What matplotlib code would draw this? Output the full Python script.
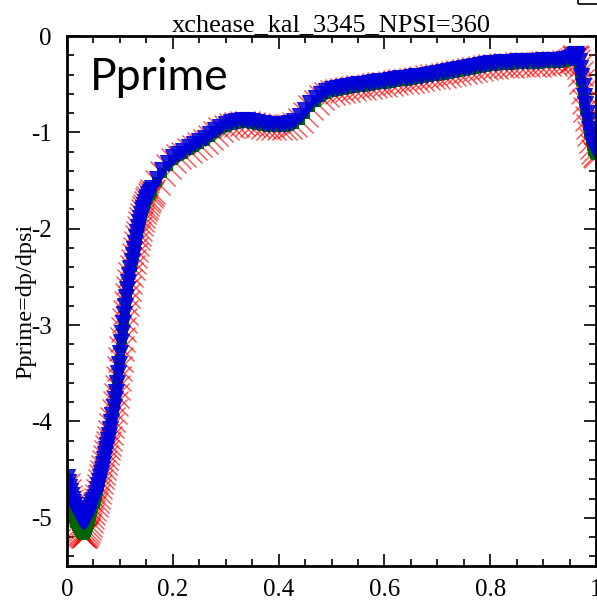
import numpy as np
import matplotlib
matplotlib.use('Agg')
import matplotlib.pyplot as plt
from matplotlib.patches import Rectangle

plt.rcParams['font.family'] = 'Liberation Serif'
plt.rcParams['axes.unicode_minus'] = False

# psi grid (finer where the profile is steep)
psi = np.concatenate([np.linspace(0.0, 0.16, 81),
                      np.linspace(0.17, 0.95, 79),
                      np.linspace(0.955, 1.0, 19)])

# blue (triangles)
pp_blue = [
    -4.58, -4.63, -4.68, -4.72, -4.76, -4.80, -4.84, -4.87, -4.90, -4.93,
    -4.95, -4.97, -4.99, -5.01, -5.02, -5.03, -5.03, -5.02, -5.01, -4.99,
    -4.96, -4.93, -4.90, -4.87, -4.84, -4.81, -4.78, -4.74, -4.70, -4.66,
    -4.62, -4.58, -4.54, -4.49, -4.44, -4.39, -4.34, -4.29, -4.24, -4.19,
    -4.14, -4.08, -4.01, -3.93, -3.85, -3.77, -3.69, -3.60, -3.50, -3.40,
    -3.29, -3.18, -3.08, -2.98, -2.89, -2.80, -2.71, -2.63, -2.55, -2.48,
    -2.41, -2.34, -2.27, -2.21, -2.15, -2.09, -2.03, -1.98, -1.93, -1.89,
    -1.85, -1.81, -1.78, -1.75, -1.72, -1.69, -1.67, -1.64, -1.62, -1.60,
    -1.58,
    -1.48, -1.39, -1.32, -1.26, -1.22, -1.19, -1.15, -1.12, -1.09, -1.06,
    -1.02, -0.98, -0.94, -0.91, -0.89, -0.88, -0.87, -0.87, -0.88, -0.89,
    -0.90, -0.91, -0.91, -0.91, -0.91, -0.90, -0.88, -0.83, -0.77, -0.70,
    -0.64, -0.60, -0.57, -0.55, -0.54, -0.53, -0.52, -0.51, -0.50, -0.50,
    -0.49, -0.48, -0.47, -0.47, -0.46, -0.45, -0.44, -0.44, -0.43, -0.42,
    -0.41, -0.40, -0.39, -0.38, -0.37, -0.36, -0.35, -0.34, -0.33, -0.32,
    -0.31, -0.30, -0.29, -0.28, -0.28, -0.27, -0.27, -0.27, -0.26, -0.26,
    -0.26, -0.26, -0.26, -0.25, -0.25, -0.25, -0.25, -0.24, -0.23,
    -0.22, -0.20, -0.19, -0.19, -0.21, -0.26, -0.33, -0.42, -0.52, -0.62,
    -0.71, -0.80, -0.88, -0.96, -1.03, -1.09, -1.14, -1.17, -1.19,
]

# green (squares)
pp_green = [
    -4.66, -4.72, -4.78, -4.83, -4.88, -4.93, -4.97, -5.01, -5.05, -5.08,
    -5.11, -5.13, -5.15, -5.16, -5.17, -5.18, -5.18, -5.17, -5.15, -5.13,
    -5.10, -5.06, -5.02, -4.98, -4.94, -4.90, -4.86, -4.82, -4.77, -4.72,
    -4.67, -4.62, -4.57, -4.52, -4.47, -4.42, -4.37, -4.32, -4.27, -4.22,
    -4.17, -4.11, -4.04, -3.97, -3.89, -3.81, -3.73, -3.64, -3.55, -3.45,
    -3.35, -3.24, -3.14, -3.04, -2.95, -2.86, -2.77, -2.69, -2.61, -2.54,
    -2.47, -2.40, -2.33, -2.27, -2.21, -2.15, -2.09, -2.04, -1.99, -1.94,
    -1.90, -1.86, -1.82, -1.79, -1.76, -1.73, -1.70, -1.68, -1.65, -1.63,
    -1.61,
    -1.51, -1.42, -1.35, -1.29, -1.25, -1.22, -1.18, -1.15, -1.12, -1.09,
    -1.05, -1.01, -0.97, -0.94, -0.92, -0.91, -0.90, -0.90, -0.91, -0.92,
    -0.93, -0.94, -0.94, -0.94, -0.94, -0.93, -0.91, -0.87, -0.81, -0.74,
    -0.68, -0.63, -0.60, -0.58, -0.57, -0.56, -0.55, -0.54, -0.53, -0.53,
    -0.52, -0.51, -0.50, -0.50, -0.49, -0.48, -0.47, -0.47, -0.46, -0.45,
    -0.44, -0.43, -0.42, -0.41, -0.40, -0.39, -0.38, -0.37, -0.36, -0.35,
    -0.34, -0.33, -0.32, -0.31, -0.31, -0.30, -0.30, -0.30, -0.29, -0.29,
    -0.29, -0.29, -0.29, -0.28, -0.28, -0.28, -0.28, -0.27, -0.26,
    -0.25, -0.23, -0.22, -0.23, -0.26, -0.31, -0.38, -0.47, -0.57, -0.67,
    -0.76, -0.85, -0.93, -1.01, -1.08, -1.14, -1.19, -1.22, -1.24,
]

# red (crosses) sits on top of the green profile
pp_red = pp_green

fig = plt.figure(figsize=(5.97, 6.0), dpi=100)
ax = fig.add_axes([67/597, 34/600, 529/597, 530/600])

ax.plot(psi, pp_red, 'x', color='red', ms=18, mew=1.0, alpha=0.7, ls='none')
ax.plot(psi, pp_green, 's', color='#006400', ms=7, mew=0, ls='none')
ax.plot(psi, pp_blue, 'v', color='#0000dd', ms=12, mew=0.8, alpha=0.85, ls='none')

ax.set_xlim(0, 1)
ax.set_ylim(-5.5, 0)
ax.set_xticks([0, 0.2, 0.4, 0.6, 0.8, 1])
ax.set_xticklabels(['0', '0.2', '0.4', '0.6', '0.8', '1'])
ax.set_yticks([0, -1, -2, -3, -4, -5])
ax.set_yticklabels(['0', '-1', '-2', '-3', '-4', '-5'])
ax.set_xticks(np.arange(0, 1.001, 0.05), minor=True)
ax.set_yticks(np.arange(-5.4, 0.001, 0.2), minor=True)
ax.tick_params(which='both', direction='in', top=True, right=True, width=1.2)
ax.tick_params(which='major', length=9, labelsize=18)
ax.tick_params(axis='x', which='major', pad=9)
ax.tick_params(axis='y', which='major', pad=11)
ax.tick_params(which='minor', length=5)
for s in ax.spines.values():
    s.set_linewidth(2)

ax.set_title('xchease_kal_3345_NPSI=360', fontsize=19, pad=3)
ax.set_ylabel('Pprime=dp/dpsi', fontsize=17.5, labelpad=-4)
ax.text(0.043, 0.898, 'Pprime', transform=ax.transAxes, fontsize=32,
        family='Lato', va='baseline', ha='left')

# corner of the legend box peeking in at the top right
fig.patches.append(Rectangle((578/597, 1 - 4/600), 0.1, 0.1, transform=fig.transFigure,
                             fill=False, lw=1.2, color='black'))

plt.savefig('out.png', dpi=100)
